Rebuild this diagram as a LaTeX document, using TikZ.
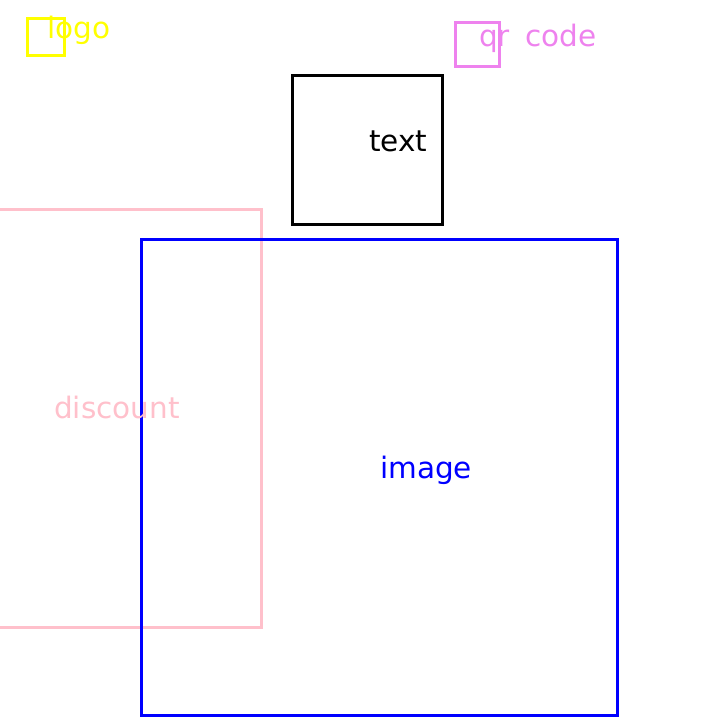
\documentclass[tikz,border=0pt]{standalone}
\usepackage{fontspec}
\setmainfont{DejaVu Sans}
\usepackage{tikz}
\usetikzlibrary{positioning}
\definecolor{logoyellow}{RGB}{255,255,0}
\definecolor{qrviolet}{RGB}{238,130,238}
\definecolor{discpink}{RGB}{255,192,203}
\definecolor{imgblue}{RGB}{0,0,255}

\begin{document}
\begin{tikzpicture}[
    x=1pt, y=-1pt,
    region/.style={rectangle, inner sep=0pt, outer sep=0pt},
    frame/.style={line width=3pt},
    tag/.style={anchor=base west, inner sep=0pt, font=\fontsize{29.5}{31}\selectfont}
  ]
    \useasboundingbox (0,0) rectangle (720,720);
    \clip (0,0) rectangle (720,720);
    % regions
    \node[region, minimum width=311pt, minimum height=418pt] (discount) at (105.5,418) {};
    \node[region, minimum width=476pt, minimum height=476pt] (image) at (379,477) {};
    \node[region, minimum width=150pt, minimum height=149pt] (text) at (367,149.5) {};
    \node[region, minimum width=37pt, minimum height=37pt] (logo) at (45.5,36.5) {};
    \node[region, minimum width=44pt, minimum height=44pt] (qr) at (477,44) {};
    \draw[frame, discpink] (discount.north west) rectangle (discount.south east);
    \draw[frame, imgblue] (image.north west) rectangle (image.south east);
    \draw[frame, black] (text.north west) rectangle (text.south east);
    \draw[frame, logoyellow] (logo.north west) rectangle (logo.south east);
    \draw[frame, qrviolet] (qr.north west) rectangle (qr.south east);
    % labels
    \node[tag, text=logoyellow] (logolbl) at (47,38) {logo};
    \node[tag, text=qrviolet] (qrlbl) at (479,46) {qr\hspace{6pt} code};
    \node[tag, text=black] (textlbl) at (369,151) {text};
    \node[tag, text=discpink] (disclbl) at (54,418) {discount};
    \node[tag, text=imgblue] (imglbl) at (380,478) {image};
  \end{tikzpicture}
\end{document}
